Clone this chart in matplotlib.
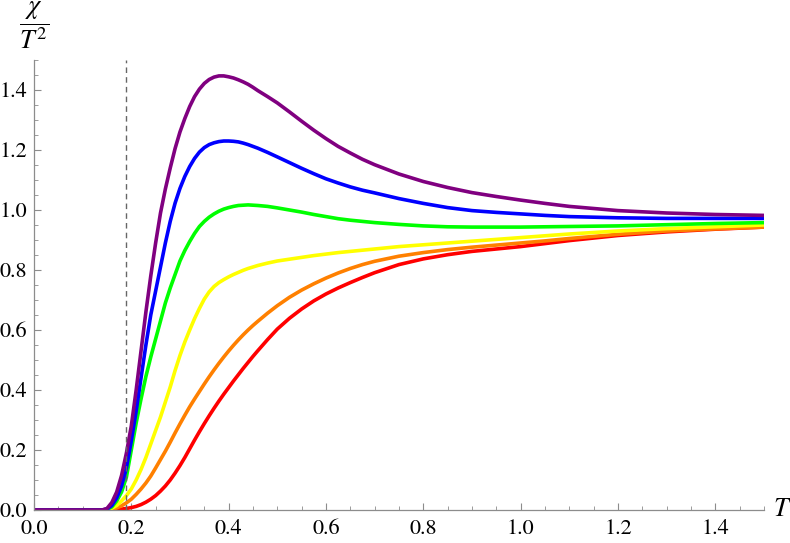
import matplotlib
matplotlib.use("Agg")
import matplotlib.pyplot as plt
from matplotlib.ticker import MultipleLocator, FormatStrFormatter

T = [0, 0.14, 0.15, 0.16, 0.17, 0.18, 0.19, 0.20, 0.21, 0.22, 0.23, 0.24, 0.25,
     0.26, 0.27, 0.28, 0.29, 0.30, 0.31, 0.32, 0.33, 0.34, 0.35, 0.36, 0.37,
     0.38, 0.39, 0.40, 0.41, 0.42, 0.43, 0.44, 0.45, 0.46, 0.48, 0.50,
     0.525, 0.55, 0.575, 0.60, 0.625, 0.65, 0.675, 0.70,
     0.75, 0.80, 0.85, 0.90, 0.95, 1.0, 1.05, 1.1, 1.2, 1.3, 1.4, 1.5]

purple = [0, 0, 0.005, 0.025, 0.06, 0.115, 0.19, 0.28, 0.40, 0.53, 0.66, 0.78, 0.89,
          0.99, 1.07, 1.14, 1.205, 1.26, 1.305, 1.345, 1.378, 1.403, 1.422, 1.435, 1.443,
          1.447, 1.447, 1.444, 1.44, 1.434, 1.427, 1.419, 1.409, 1.398, 1.378, 1.357,
          1.327, 1.296, 1.266, 1.238, 1.212, 1.19, 1.169, 1.151,
          1.12, 1.095, 1.075, 1.058, 1.045, 1.033, 1.022, 1.012, 0.998, 0.99, 0.985, 0.982]
blue = [0, 0, 0.003, 0.015, 0.04, 0.08, 0.14, 0.23, 0.33, 0.44, 0.55, 0.65, 0.73,
        0.81, 0.89, 0.962, 1.023, 1.072, 1.112, 1.145, 1.172, 1.193, 1.208, 1.218, 1.224,
        1.228, 1.23, 1.23, 1.229, 1.227, 1.223, 1.218, 1.212, 1.206, 1.192, 1.177,
        1.158, 1.139, 1.121, 1.104, 1.09, 1.077, 1.066, 1.057,
        1.038, 1.022, 1.008, 0.998, 0.992, 0.987, 0.982, 0.978, 0.974, 0.972, 0.972, 0.972]
green = [0, 0, 0.002, 0.01, 0.03, 0.06, 0.11, 0.20, 0.29, 0.37, 0.445, 0.51, 0.57,
         0.63, 0.69, 0.74, 0.785, 0.83, 0.865, 0.895, 0.922, 0.945, 0.962, 0.976, 0.987,
         0.996, 1.003, 1.008, 1.012, 1.015, 1.016, 1.017, 1.016, 1.015, 1.012, 1.007,
         1.0, 0.993, 0.985, 0.978, 0.971, 0.966, 0.962, 0.958,
         0.952, 0.947, 0.944, 0.943, 0.943, 0.943, 0.944, 0.945, 0.947, 0.951, 0.955, 0.958]
yellow = [0, 0, 0.001, 0.006, 0.015, 0.03, 0.048, 0.07, 0.10, 0.135, 0.175, 0.22, 0.265,
          0.31, 0.36, 0.41, 0.465, 0.515, 0.56, 0.60, 0.638, 0.672, 0.703, 0.727, 0.745,
          0.758, 0.768, 0.777, 0.785, 0.792, 0.799, 0.805, 0.81, 0.815, 0.823, 0.83,
          0.836, 0.842, 0.848, 0.853, 0.858, 0.862, 0.866, 0.870,
          0.878, 0.884, 0.89, 0.896, 0.902, 0.908, 0.914, 0.92, 0.93, 0.938, 0.944, 0.95]
orange = [0, 0, 0, 0.002, 0.007, 0.014, 0.024, 0.036, 0.052, 0.07, 0.09, 0.113, 0.14,
          0.168, 0.196, 0.226, 0.257, 0.287, 0.316, 0.344, 0.37, 0.395, 0.42, 0.444, 0.467,
          0.489, 0.51, 0.53, 0.549, 0.567, 0.584, 0.60, 0.615, 0.629, 0.656, 0.681,
          0.709, 0.733, 0.754, 0.773, 0.79, 0.805, 0.818, 0.829,
          0.846, 0.858, 0.868, 0.876, 0.883, 0.89, 0.897, 0.905, 0.919, 0.93, 0.937, 0.943]
red = [0, 0, 0, 0.001, 0.002, 0.003, 0.005, 0.008, 0.012, 0.018, 0.026, 0.036, 0.048,
       0.063, 0.08, 0.10, 0.123, 0.148, 0.175, 0.204, 0.233, 0.261, 0.288, 0.314, 0.339,
       0.363, 0.386, 0.408, 0.43, 0.451, 0.472, 0.492, 0.512, 0.531, 0.568, 0.603,
       0.639, 0.67, 0.697, 0.72, 0.74, 0.758, 0.775, 0.791,
       0.818, 0.837, 0.851, 0.862, 0.870, 0.878, 0.888, 0.898, 0.915, 0.927, 0.936, 0.943]

series = [("red", red, "#ff0000"), ("orange", orange, "#ff8000"),
          ("yellow", yellow, "#ffff00"), ("green", green, "#00ff00"),
          ("blue", blue, "#0000ff"), ("purple", purple, "#800080")]
T_c = 0.19

plt.rcParams['font.family'] = ['STIXGeneral', 'DejaVu Serif']
plt.rcParams['mathtext.fontset'] = 'stix'

fig = plt.figure(figsize=(7.9, 5.43), dpi=100)
ax = fig.add_axes([0.043, 0.0608, 0.924, 0.8287])

for name, vals, col in series:
    ax.plot(T, vals, color=col, lw=2.6, solid_capstyle='round', solid_joinstyle='round')

ax.plot([T_c, T_c], [0, 1.5], color='#666666', lw=1.0, ls=(0, (4, 3)))

ax.set_xlim(0, 1.5)
ax.set_ylim(0, 1.5)
for s in ['top', 'right']:
    ax.spines[s].set_visible(False)
for s in ['left', 'bottom']:
    ax.spines[s].set_color('#8c8c8c')
    ax.spines[s].set_linewidth(0.9)

ax.xaxis.set_major_locator(MultipleLocator(0.2))
ax.xaxis.set_minor_locator(MultipleLocator(0.05))
ax.yaxis.set_major_locator(MultipleLocator(0.2))
ax.yaxis.set_minor_locator(MultipleLocator(0.05))
ax.xaxis.set_major_formatter(FormatStrFormatter('%.1f'))
ax.yaxis.set_major_formatter(FormatStrFormatter('%.1f'))
ax.tick_params(which='major', direction='in', length=5, width=0.8, color='#8c8c8c',
               labelsize=16)
ax.tick_params(axis='x', which='major', pad=7)
ax.tick_params(axis='y', which='major', pad=5)
ax.tick_params(which='minor', direction='in', length=3, width=0.6, color='#8c8c8c')

ax.text(1.012, 0.0, r'$T$', transform=ax.transAxes, fontsize=19, va='center', ha='left')
ax.text(0.0, 1.02, r'$\dfrac{\chi}{T^2}$', transform=ax.transAxes, fontsize=19,
        va='bottom', ha='center')

fig.savefig('out.png', dpi=100)
